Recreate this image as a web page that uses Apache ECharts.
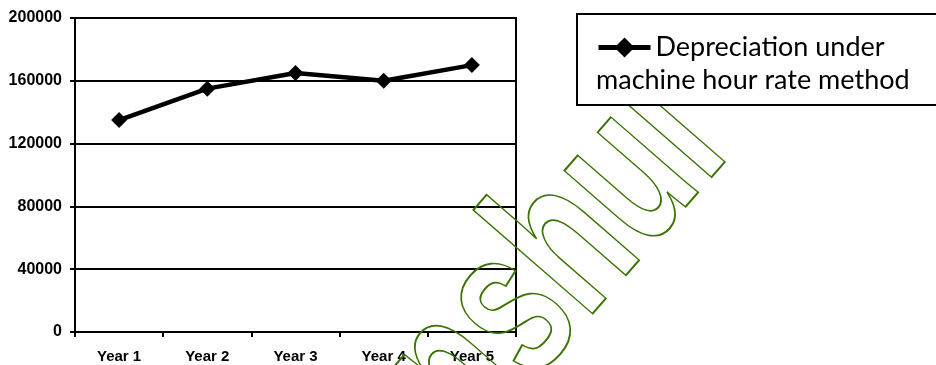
<!DOCTYPE html>
<html>
<head>
<meta charset="utf-8">
<script src="https://cdn.jsdelivr.net/npm/echarts@6/dist/echarts.min.js"></script>
<style>
html,body{margin:0;padding:0;background:#fff;}
#main{width:936px;height:365px;}
</style>
</head>
<body>
<div id="main"></div>
<script>
// data
var years = ["Year 1", "Year 2", "Year 3", "Year 4", "Year 5"];
var depreciation = [135000, 155000, 165000, 160000, 170000];
var seriesName = "Depreciation under machine hour rate method";

var chart = echarts.init(document.getElementById("main"));

// watermark: rotated, condensed outline text
var wmAngle = 49 * Math.PI / 180;

var option = {
	animation: false,
	grid: {
		left: 75, right: 420, top: 18, bottom: 33,
		show: true, borderColor: "#000", borderWidth: 2
	},
	xAxis: {
		type: "category",
		data: years,
		boundaryGap: true,
		axisLine: {lineStyle: {color: "#000", width: 2}},
		axisTick: {show: true, length: 5, lineStyle: {color: "#000", width: 2}},
		axisLabel: {color: "#000", fontWeight: "bold", fontSize: 15, fontFamily: "Liberation Sans", margin: 17}
	},
	yAxis: {
		type: "value",
		min: 0, max: 200000, interval: 40000,
		axisLine: {show: true, lineStyle: {color: "#000", width: 2}},
		axisTick: {show: true, length: 5, lineStyle: {color: "#000", width: 2}},
		splitLine: {lineStyle: {color: "#000", width: 2}},
		axisLabel: {
			color: "#000", fontWeight: "bold", fontSize: 16, fontFamily: "Liberation Sans", margin: 13,
			formatter: function(v){ return String(v); }
		}
	},
	legend: {
		z: 110,
		left: 596, top: 34,
		padding: 0,
		itemWidth: 52, itemHeight: 25,
		lineStyle: {width: 5},
		formatter: function(){ return "Depreciation under"; },
		textStyle: {fontFamily: "Lato", fontSize: 27, color: "#000"}
	},
	graphic: [
		{
			type: "text", z: 50,
			x: 439, y: 565, rotation: wmAngle,
			scaleX: 0.68,
			silent: true,
			style: {
				text: "Anshul",
				font: "bold 218px Liberation Sans",
				fill: "none",
				stroke: "#3a7300",
				lineWidth: 2,
				strokeNoScale: true,
				verticalAlign: "bottom"
			}
		},
		{
			type: "rect", z: 100,
			shape: {x: 577, y: 14, width: 420, height: 91},
			style: {fill: "#fff", stroke: "#000", lineWidth: 2}
		},
		{
			type: "text", z: 101,
			x: 596, y: 80,
			style: {
				text: "machine hour rate method",
				font: "27px Lato",
				fill: "#000",
				verticalAlign: "middle"
			}
		}
	],
	series: [
		{
			name: seriesName,
			type: "line",
			data: depreciation,
			symbol: "diamond",
			symbolSize: 16,
			lineStyle: {color: "#000", width: 4.5},
			itemStyle: {color: "#000"}
		}
	]
};
chart.setOption(option);
</script>
</body>
</html>
